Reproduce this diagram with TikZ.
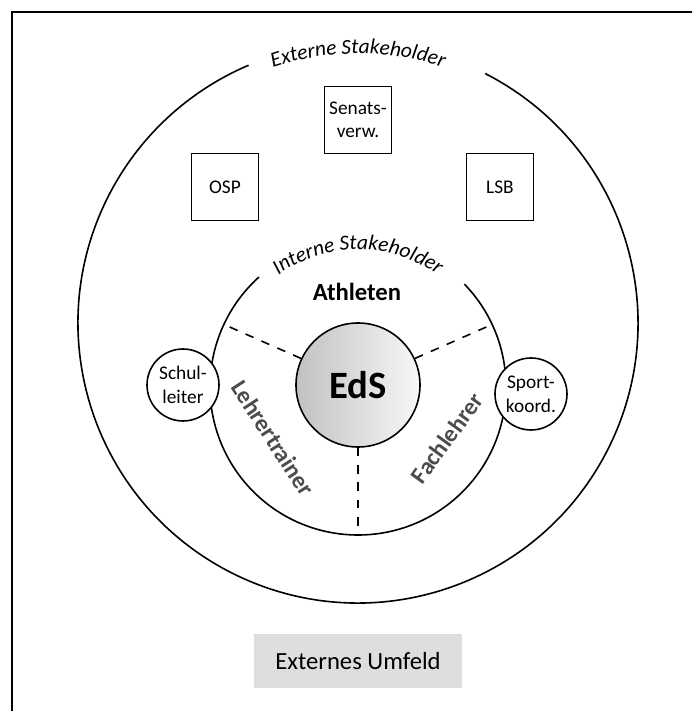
\documentclass[tikz,border=0pt]{standalone}
\usepackage{fontspec}
\setmainfont{Carlito}
\usetikzlibrary{decorations.text}

\tikzset{
  stakebox/.style={draw, minimum size=50pt, inner sep=0pt, align=center,
    font=\fontsize{14.5}{17}\selectfont},
  stakecircle/.style={draw, circle, fill=white, minimum size=54pt, inner sep=0pt,
    align=center, font=\fontsize{14.5}{18}\selectfont},
  ring/.style={circle, inner sep=0pt, outer sep=0pt},
  sector/.style={font=\bfseries\fontsize{18}{20}\selectfont, text=black!70},
  divider/.style={dash pattern=on 6.5pt off 6.5pt},
}

\begin{document}
\begin{tikzpicture}[x=0.75pt, y=0.75pt, line width=1.2pt]
\useasboundingbox (0,0) rectangle (692,711);
\draw[line width=1.5pt] (12,0) -- (12,699) -- (692,699);
\node[ring, minimum size=420pt] (outer) at (358,388) {};
\node[ring, minimum size=222pt] (inner) at (358,324) {};
\draw (outer.63) arc[start angle=63, end angle=-247, radius=210pt];
\draw (inner.44) arc[start angle=44, end angle=-228, radius=111pt];
\path[decorate, decoration={text along path, text align=center,
  text={|\itshape\fontsize{16}{18}\selectfont|Externe Stakeholder}}]
  ([shift={(125:202pt)}]outer.center) arc[start angle=125, end angle=55, radius=202pt];
\path[decorate, decoration={text along path, text align=center,
  text={|\itshape\fontsize{16}{18}\selectfont|Interne Stakeholder}}]
  ([shift={(135:103pt)}]inner.center) arc[start angle=135, end angle=45, radius=103pt];
\node[stakebox] (senat) at (358,591) {Senats-\\verw.};
\node[stakebox] (osp) at (225,524) {OSP};
\node[stakebox] (lsb) at (500,524) {LSB};
\node[circle, draw, minimum size=93pt, inner sep=0pt, left color=black!24, right color=black!3,
  font=\bfseries\fontsize{29}{32}\selectfont] (eds) at (358,326) {EdS};
\draw[divider] (eds.155) -- (inner.155);
\draw[divider] (eds.25) -- (inner.25);
\draw[divider] (eds.270) -- (inner.270);
\node[font=\bfseries\fontsize{18.5}{21}\selectfont] (athleten) at (357,419) {Athleten};
\node[sector, rotate=-57] (lehrer) at (273,273) {Lehrertrainer};
\node[sector, rotate=54] (fach) at (447,273) {Fachlehrer};
\node[stakecircle] (schul) at (183,326) {Schul-\\leiter};
\node[stakecircle] (sport) at (531,317) {Sport-\\koord.};
\node[fill=black!13, minimum width=156pt, minimum height=40pt,
  font=\fontsize{18.5}{20}\selectfont] (umfeld) at (358,50) {Externes Umfeld};
\end{tikzpicture}
\end{document}
